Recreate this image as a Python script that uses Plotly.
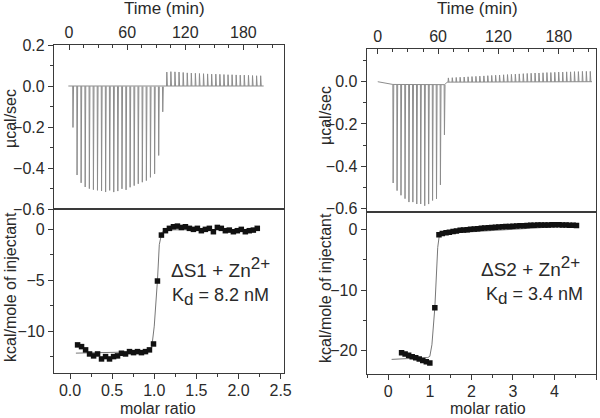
import numpy as np
import plotly.graph_objects as go

# ---------------- data ----------------
# Left experiment: raw thermogram (injection times in min, peak heights in ucal/sec)
left_inj_time = [3.8, 8.0, 12.2, 16.4, 20.7, 24.9, 29.1, 33.3, 37.5, 41.7, 45.9, 50.1,
                 54.4, 58.6, 62.8, 67.0, 71.2, 75.4, 79.6, 83.8, 88.1, 92.3, 96.5, 100.7,
                 104.9, 109.1, 113.3, 117.6, 121.8, 126.0, 130.2, 134.4, 138.6, 142.8,
                 147.0, 151.3, 155.5, 159.7, 163.9, 168.1, 172.3, 176.5, 180.7, 185.0,
                 189.2, 193.4, 197.6]
left_inj_peak = [-0.202, -0.434, -0.472, -0.492, -0.500, -0.505, -0.508, -0.511, -0.516,
                 -0.508, -0.516, -0.511, -0.500, -0.505, -0.492, -0.484, -0.475, -0.467,
                 -0.459, -0.443, -0.426, -0.336, -0.123,
                 0.068, 0.070, 0.069, 0.068, 0.066, 0.064, 0.063, 0.062, 0.061, 0.060,
                 0.059, 0.058, 0.058, 0.057, 0.056, 0.055, 0.055, 0.054, 0.053, 0.053,
                 0.052, 0.051, 0.050, 0.050]
left_base_time = [-0.7, 98.0, 100.0, 201.0]
left_base_val = [0.0, -0.003, 0.0, 0.0]

# Left experiment: integrated heats
left_ratio = [0.090, 0.137, 0.185, 0.232, 0.280, 0.327, 0.374, 0.422, 0.469, 0.517,
              0.564, 0.611, 0.659, 0.706, 0.754, 0.801, 0.848, 0.896, 0.943, 0.991,
              1.038, 1.085, 1.133, 1.180, 1.228, 1.275, 1.322, 1.370, 1.417, 1.465,
              1.512, 1.559, 1.607, 1.654, 1.702, 1.749, 1.796, 1.844, 1.891, 1.939,
              1.986, 2.033, 2.081, 2.128, 2.176, 2.223]
left_heat = [-11.34, -11.51, -11.83, -12.23, -12.42, -12.23, -12.72, -12.49, -12.72, -12.49,
             -12.42, -12.16, -12.23, -12.00, -12.10, -12.00, -12.10, -12.00, -11.83, -11.25,
             -5.07, -0.56, -0.13, 0.10, 0.26, 0.32, 0.19, 0.26, 0.10, 0.00,
             0.10, -0.13, 0.00, 0.10, -0.23, 0.19, 0.10, -0.13, -0.07, -0.23,
             -0.13, 0.00, -0.23, -0.13, -0.07, 0.10]
left_fit_ratio = [0.07, 0.93, 0.97, 1.00, 1.038, 1.06, 1.09, 1.15, 2.22]
left_fit_heat = [-12.15, -12.0, -11.6, -9.5, -5.0, -1.5, -0.3, -0.05, 0.0]

# Right experiment: raw thermogram
right_inj_time = [15.0, 18.9, 22.8, 26.8, 30.7, 34.6, 38.5, 42.4, 46.4, 50.3, 54.2, 58.1,
                  62.0, 66.0, 69.9, 73.8, 77.7, 81.6, 85.6, 89.5, 93.4, 97.3, 101.2, 105.2,
                  109.1, 113.0, 116.9, 120.8, 124.8, 128.7, 132.6, 136.5, 140.4, 144.4,
                  148.3, 152.2, 156.1, 160.0, 164.0, 167.9, 171.8, 175.7, 179.6, 183.6,
                  187.5, 191.4, 195.3, 199.2, 203.2, 207.1, 211.0]
right_inj_peak = [-0.467, -0.503, -0.525, -0.541, -0.557, -0.557, -0.566, -0.566, -0.574,
                  -0.566, -0.549, -0.541, -0.475, -0.238,
                  0.020, 0.021, 0.022, 0.023, 0.024, 0.025, 0.026, 0.027, 0.028, 0.029,
                  0.030, 0.031, 0.032, 0.033, 0.034, 0.035, 0.036, 0.037, 0.038, 0.039,
                  0.040, 0.041, 0.042, 0.042, 0.043, 0.044, 0.044, 0.045, 0.046, 0.046,
                  0.047, 0.047, 0.048, 0.048, 0.049, 0.049, 0.049]
right_base_time = [0.0, 5.0, 10.0, 15.0, 66.5, 69.0, 213.0]
right_base_val = [0.0, -0.004, -0.009, -0.013, -0.014, -0.002, 0.0]

# Right experiment: integrated heats
right_ratio = [0.32, 0.405, 0.49, 0.575, 0.66, 0.745, 0.83, 0.915, 1.00, 1.12,
               1.22, 1.30, 1.39, 1.47, 1.56, 1.64, 1.73, 1.81, 1.90, 1.98,
               2.07, 2.15, 2.24, 2.32, 2.41, 2.49, 2.58, 2.66, 2.75, 2.83,
               2.92, 3.00, 3.09, 3.17, 3.26, 3.34, 3.43, 3.51, 3.60, 3.68,
               3.77, 3.85, 3.94, 4.02, 4.11, 4.19, 4.28, 4.36, 4.45, 4.53]
right_heat = [-20.3, -20.5, -20.7, -20.95, -21.15, -21.35, -21.6, -21.8, -22.0, -12.9,
              -0.94, -0.72, -0.60, -0.50, -0.40, -0.30, -0.20, -0.14, -0.08, -0.03,
              0.02, 0.08, 0.14, 0.18, 0.22, 0.26, 0.30, 0.34, 0.38, 0.42,
              0.45, 0.48, 0.51, 0.54, 0.57, 0.60, 0.63, 0.65, 0.67, 0.68,
              0.69, 0.70, 0.71, 0.72, 0.71, 0.70, 0.68, 0.66, 0.63, 0.60]
right_fit_ratio = [0.08, 0.95, 1.00, 1.05, 1.12, 1.19, 1.23, 1.30, 4.53]
right_fit_heat = [-21.4, -21.1, -20.9, -19.0, -12.9, -3.0, -0.94, -0.72, 0.6]

time_tickvals = [0, 60, 120, 180]

# ---------------- helpers ----------------
RAW = "#8c8c8c"
AX = "#3a3a3a"
TXT = "#2a2a2a"
FONT = "Liberation Sans, Arial, sans-serif"


def thermogram(times, peaks, base_t, base_v):
    xs, ys = list(base_t), list(base_v)
    xs.append(None)
    ys.append(None)
    for t, p in zip(times, peaks):
        b = float(np.interp(t, base_t, base_v))
        xs += [t, t + 0.3, t + 0.9, None]
        ys += [b, p + b, b, None]
    return xs, ys


W, H = 600, 418
fig = go.Figure()

lx, ly = thermogram(left_inj_time, left_inj_peak, left_base_time, left_base_val)
fig.add_trace(go.Scatter(x=lx, y=ly, mode="lines", line=dict(color=RAW, width=1),
                         xaxis="x", yaxis="y", hoverinfo="skip"))
fig.add_trace(go.Scatter(x=left_fit_ratio, y=left_fit_heat, mode="lines",
                         line=dict(color="#777", width=1), xaxis="x2", yaxis="y2"))
fig.add_trace(go.Scatter(x=left_ratio, y=left_heat, mode="markers",
                         marker=dict(symbol="square", size=5.5, color="#111"),
                         xaxis="x2", yaxis="y2"))

rx, ry = thermogram(right_inj_time, right_inj_peak, right_base_time, right_base_val)
fig.add_trace(go.Scatter(x=rx, y=ry, mode="lines", line=dict(color=RAW, width=1),
                         xaxis="x3", yaxis="y3", hoverinfo="skip"))
fig.add_trace(go.Scatter(x=right_fit_ratio, y=right_fit_heat, mode="lines",
                         line=dict(color="#777", width=1), xaxis="x4", yaxis="y4"))
fig.add_trace(go.Scatter(x=right_ratio, y=right_heat, mode="markers",
                         marker=dict(symbol="square", size=5.5, color="#111"),
                         xaxis="x4", yaxis="y4"))

L_x = [54 / W, 284 / W]
R_x = [366.7 / W, 596 / W]
LT_y = [1 - 209 / H, 1 - 45 / H]
LB_y = [1 - 373 / H, 1 - 209 / H]
RT_y = [1 - 211.5 / H, 1 - 49 / H]
RB_y = [1 - 374 / H, 1 - 211.5 / H]

base = dict(showline=True, linecolor=AX, linewidth=1.2, mirror=True, showgrid=False,
            zeroline=False, tickcolor=AX, ticklen=5, tickwidth=1, automargin=False,
            tickfont=dict(family=FONT, size=16, color=TXT))
minor_in = dict(ticks="inside", ticklen=3, tickcolor=AX)
minor_out = dict(ticks="outside", ticklen=3, tickcolor=AX)

fig.update_layout(
    template="none",
    width=W, height=H, margin=dict(l=0, r=0, t=0, b=0, autoexpand=False),
    paper_bgcolor="white", plot_bgcolor="white", showlegend=False,
    font=dict(family=FONT, color=TXT),
    xaxis=dict(base, domain=L_x, anchor="y", side="top", range=[-15.5, 222], ticks="inside",
               tickvals=time_tickvals, minor=dict(minor_in, dtick=15)),
    yaxis=dict(base, domain=LT_y, anchor="x", range=[-0.6, 0.2], ticks="outside",
               dtick=0.2, tickformat=".1f", minor=dict(minor_out, dtick=0.1)),
    xaxis2=dict(base, domain=L_x, anchor="y2", range=[-0.19, 2.54], ticks="outside",
                dtick=0.5, tickformat=".1f", ticklabelstandoff=-2,
                minor=dict(minor_out, dtick=0.25)),
    yaxis2=dict(base, domain=LB_y, anchor="x2", range=[-14.1, 2.0], ticks="outside",
                tickvals=[0, -5, -10], minor=dict(minor_out, dtick=2.5)),
    xaxis3=dict(base, domain=R_x, anchor="y3", side="top", range=[-11, 217], ticks="inside",
                tickvals=time_tickvals, minor=dict(minor_in, dtick=15)),
    yaxis3=dict(base, domain=RT_y, anchor="x3", range=[-0.615, 0.155], ticks="outside",
                dtick=0.2, tickformat=".1f", minor=dict(minor_out, dtick=0.1)),
    xaxis4=dict(base, domain=R_x, anchor="y4", range=[-0.52, 5.0], ticks="outside",
                dtick=1, ticklabelstandoff=-2, minor=dict(minor_out, dtick=0.5)),
    yaxis4=dict(base, domain=RB_y, anchor="x4", range=[-23.8, 2.9], ticks="outside",
                tickvals=[0, -10, -20], minor=dict(minor_out, dtick=5)),
)


def ann(text, xp, yp, size=16, angle=0, xanchor="center", yanchor="middle"):
    fig.add_annotation(text=text, x=xp / W, y=1 - yp / H, xref="paper", yref="paper",
                       showarrow=False, textangle=angle, xanchor=xanchor, yanchor=yanchor,
                       borderpad=0, font=dict(family=FONT, size=size, color=TXT))


ann("Time (min)", 164, 9, size=17)
ann("Time (min)", 477, 9, size=17)
ann("µcal/sec", 10, 119, angle=-90)
ann("µcal/sec", 325, 116, angle=-90)
ann("kcal/mole of injectant", 10, 287, angle=-90)
ann("kcal/mole of injectant", 325, 288, angle=-90)
ann("molar ratio", 158, 418, size=16, yanchor="bottom")
ann("molar ratio", 488, 418, size=16, yanchor="bottom")
SUP = "<sup><span style='font-size:17px'>2+</span></sup>"
SUB = "<sub><span style='font-size:17px'>d</span></sub>"
ann("ΔS1 + Zn" + SUP, 170, 267, size=19, xanchor="left")
ann("K" + SUB + " = 8.2 nM", 171, 297, size=18, xanchor="left")
ann("ΔS2 + Zn" + SUP, 480, 266, size=19, xanchor="left")
ann("K" + SUB + " = 3.4 nM", 485, 296, size=18, xanchor="left")

fig.write_html("out.html", config={"displayModeBar": False},
               post_script="document.body.style.margin='0';document.body.style.padding='0';")
